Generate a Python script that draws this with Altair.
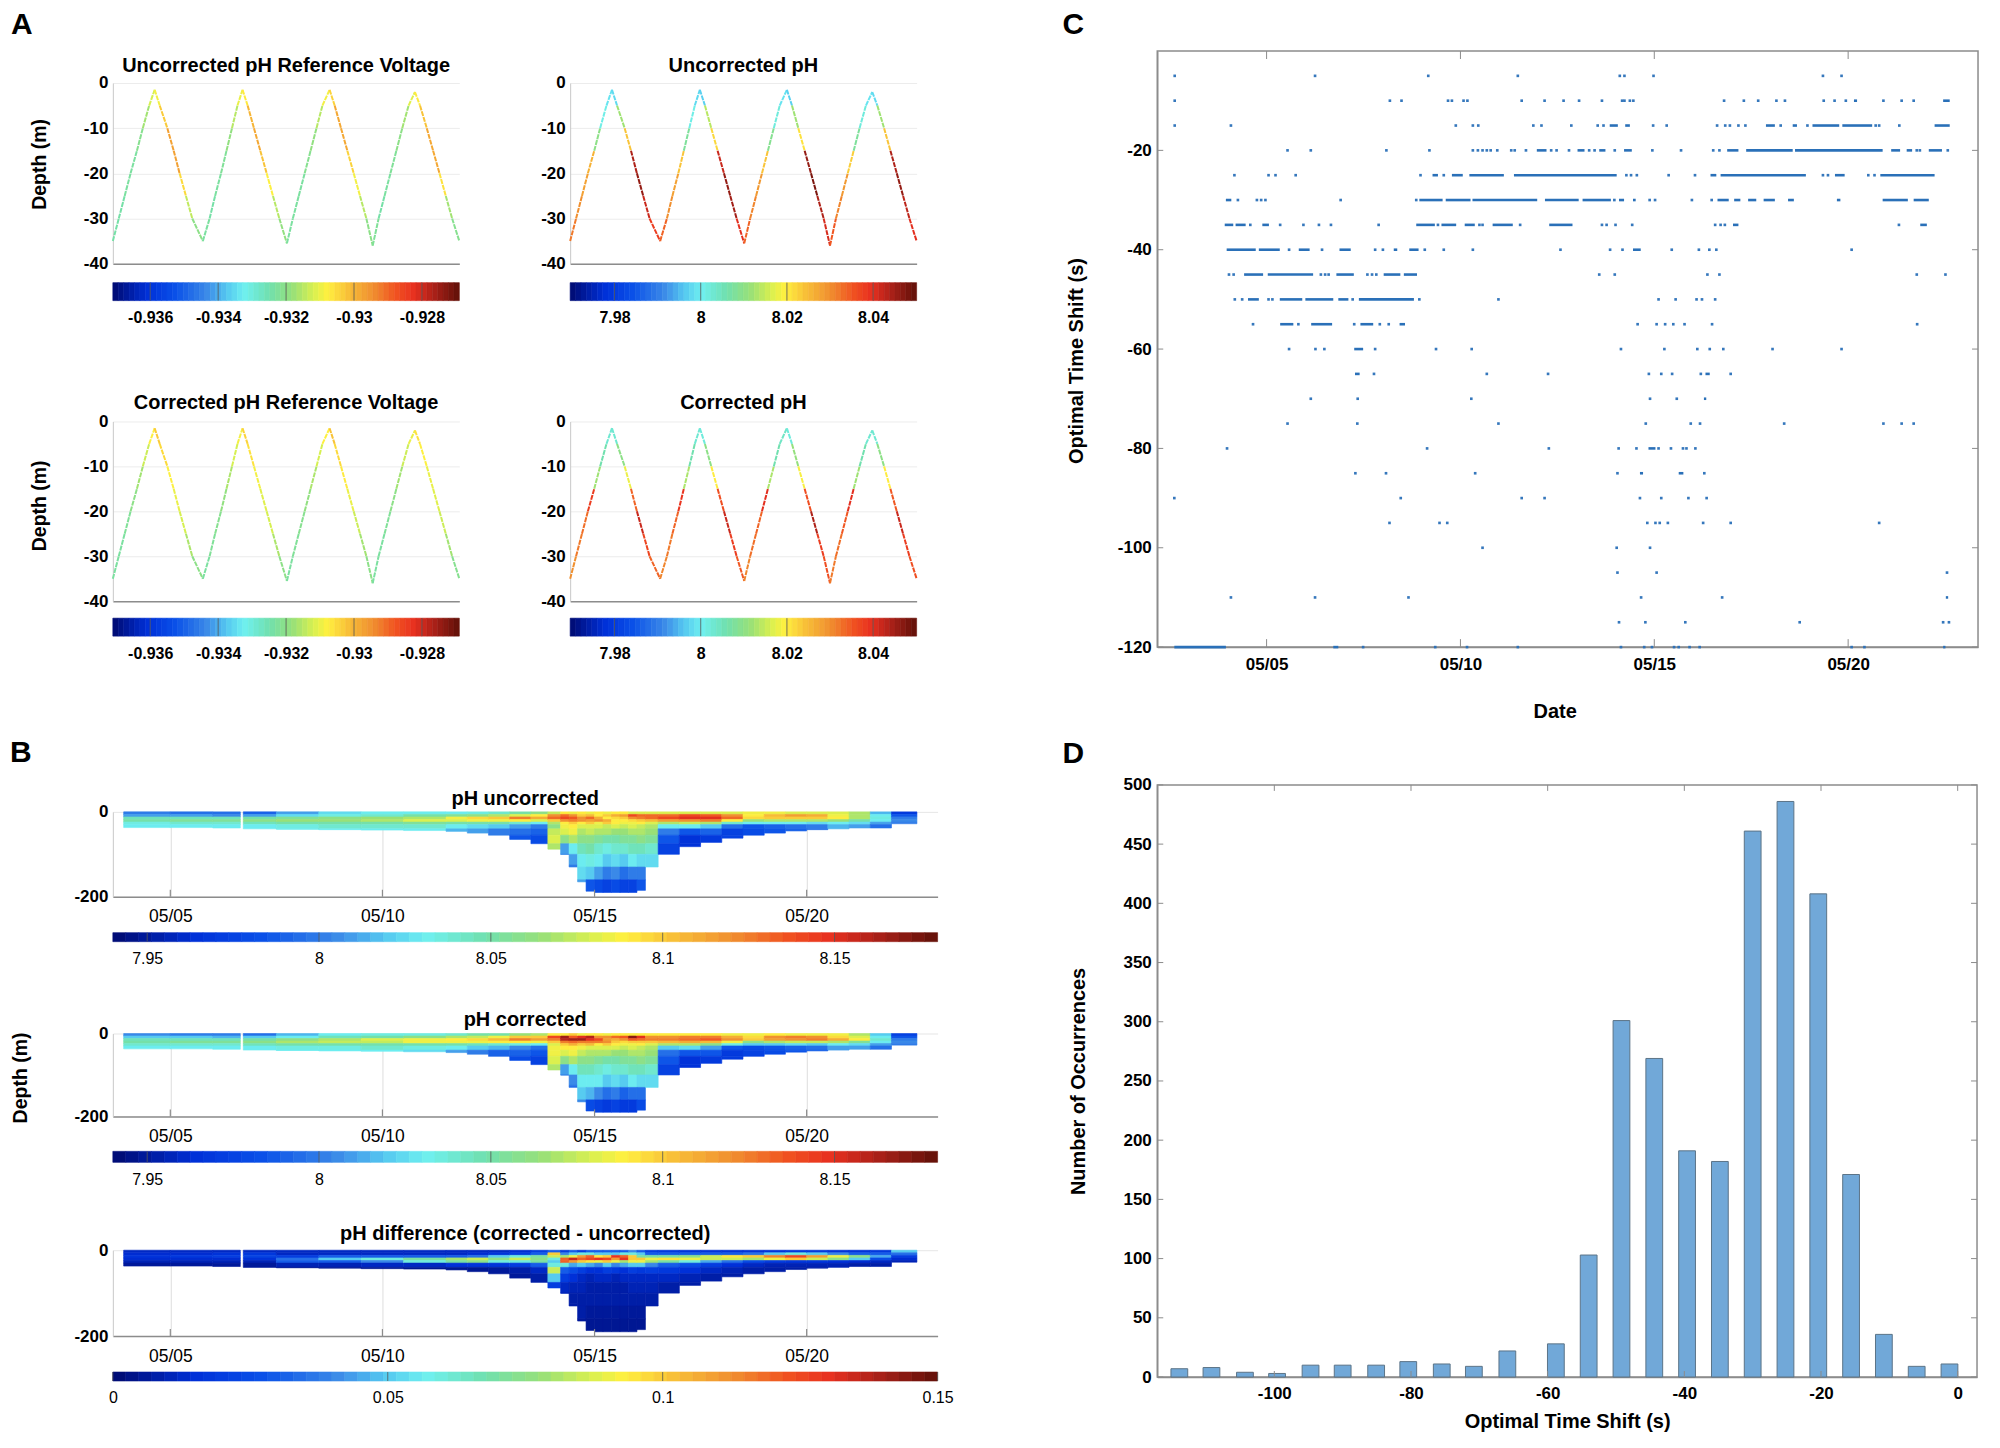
import altair as alt
import numpy as np
import pandas as pd

FONT = "Liberation Sans"
GREY = "#8c8c8c"

# jet-like colour ramp
JET_FRACS = [0, .1, .18, .27, .33, .38, .45, .52, .58, .62, .68, .75, .82, .87, .93, 1]
JET_COLORS = ["#000a70", "#0030d8", "#0a50e8", "#3a88e8", "#55c8f0", "#6ff0f0", "#70e0b0", "#98e078",
              "#d8f050", "#fff040", "#f8c038", "#f09030", "#f05020", "#e83020", "#a82018", "#601008"]

# Panel A: profile time (hours) and depth (m)
A_TIME = [0, .14, .28, .42, .57, .71, .86, .99, 1.11, 1.29, 1.44, 1.58, 1.73, 1.88,
          2.13, 2.29, 2.42, 2.56, 2.69, 2.82, 2.95, 3.07, 3.19, 3.34, 3.49, 3.64, 3.79, 3.94,
          4.12, 4.26, 4.40, 4.54, 4.68, 4.82, 4.96, 5.13, 5.25, 5.40, 5.55, 5.70, 5.85, 6.00,
          6.15, 6.29, 6.43, 6.57, 6.71, 6.85, 7.00, 7.15, 7.27, 7.43, 7.58, 7.73, 7.88, 8.03, 8.2]
A_DEPTH = [-35, -30, -25, -20, -15, -10, -5, -1.5, -5, -10, -15, -20, -25, -30,
           -35, -30, -25, -20, -15, -10, -5, -1.5, -5, -10, -15, -20, -25, -30,
           -35.5, -30, -25, -20, -15, -10, -5, -1.5, -5, -10, -15, -20, -25, -30,
           -36, -30, -25, -20, -15, -10, -5, -2, -5, -10, -15, -20, -25, -30, -35]
VOLT_UNC = [-.9324, -.9324, -.9323, -.9323, -.9321, -.9317, -.9312, -.9309, -.9303, -.9297, -.9297, -.9305, -.9314, -.9320,
            -.9323, -.9324, -.9323, -.9322, -.9319, -.9315, -.9310, -.9307, -.9300, -.9298, -.9302, -.9308, -.9315, -.9319,
            -.9323, -.9323, -.9323, -.9321, -.9319, -.9315, -.9309, -.9304, -.9298, -.9298, -.9304, -.9309, -.9315, -.9320,
            -.9322, -.9324, -.9323, -.9322, -.9320, -.9317, -.9311, -.9307, -.9302, -.9298, -.9298, -.9306, -.9317, -.9321]
VOLT_COR = [-.9323, -.9323, -.9322, -.9320, -.9317, -.9313, -.9308, -.9303, -.9305, -.9308, -.9310, -.9312, -.9316, -.9320,
            -.9323, -.9322, -.9321, -.9319, -.9316, -.9312, -.9309, -.9304, -.9306, -.9309, -.9311, -.9312, -.9316, -.9320,
            -.9323, -.9322, -.9321, -.9319, -.9316, -.9312, -.9308, -.9302, -.9305, -.9307, -.9310, -.9313, -.9317, -.9320,
            -.9323, -.9323, -.9322, -.9320, -.9317, -.9313, -.9310, -.9306, -.9308, -.9310, -.9311, -.9313, -.9317, -.9321]
PHA_UNC = [8.032, 8.030, 8.028, 8.026, 8.010, 8.001, 7.999, 7.998, 8.012, 8.024, 8.044, 8.046, 8.042, 8.038,
           8.034, 8.030, 8.028, 8.024, 8.008, 8.001, 7.998, 7.997, 8.014, 8.022, 8.042, 8.046, 8.045, 8.040,
           8.034, 8.031, 8.029, 8.024, 8.009, 8.002, 7.999, 7.997, 8.012, 8.021, 8.046, 8.048, 8.044, 8.041,
           8.035, 8.031, 8.029, 8.023, 8.008, 8.002, 7.999, 7.998, 8.012, 8.024, 8.044, 8.046, 8.043, 8.040]
PHA_COR = [8.030, 8.032, 8.033, 8.038, 8.012, 8.006, 8.003, 8.003, 8.010, 8.018, 8.034, 8.042, 8.037, 8.034,
           8.031, 8.032, 8.034, 8.039, 8.013, 8.006, 8.003, 8.002, 8.010, 8.020, 8.036, 8.042, 8.038, 8.035,
           8.031, 8.033, 8.034, 8.040, 8.013, 8.006, 8.004, 8.002, 8.011, 8.019, 8.036, 8.044, 8.038, 8.036,
           8.032, 8.033, 8.035, 8.040, 8.012, 8.006, 8.003, 8.003, 8.010, 8.020, 8.035, 8.042, 8.038, 8.036]

# Panel B: column start days, column bottoms, layer edges, then values per column from the surface down
B_DAYS = [3.9, 5, 6, 6.65, 6.72, 7.5, 8.5, 9.5, 10.5, 11.5, 12, 12.5, 13, 13.5, 13.9, 14.2, 14.4, 14.6, 14.8,
          15, 15.2, 15.4, 15.6, 15.8, 16, 16.2, 16.5, 17, 17.5, 18, 18.5, 19, 19.5, 20, 20.5, 21, 21.5, 22, 22.6]
B_BOTTOM = [-37, -37, -38, -38, -40, -41, -42, -43, -44, -46, -50, -58, -65, -75, -88, -100, -125, -165, -187,
            -190, -190, -190, -190, -190, -185, -130, -100, -82, -72, -62, -55, -50, -45, -42, -40, -38, -38, -28]
B_LAYERS = [0, -6, -12, -18, -24, -30, -40, -55, -75, -100, -130, -160, -192]
PH_UNC = [
    [8.0, 8.01, 8.045, 8.05, 8.035, 8.03], [7.995, 8.01, 8.045, 8.055, 8.04, 8.03],
    [7.995, 8.005, 8.045, 8.055, 8.04, 8.03], [],
    [7.99, 8.01, 8.05, 8.06, 8.045, 8.03], [8.01, 8.025, 8.055, 8.065, 8.05, 8.035, 8.03],
    [8.025, 8.035, 8.06, 8.065, 8.05, 8.04, 8.03], [8.03, 8.04, 8.065, 8.07, 8.05, 8.04, 8.03],
    [8.03, 8.05, 8.07, 8.08, 8.055, 8.04, 8.03], [8.03, 8.055, 8.085, 8.08, 8.05, 8.03, 8.015],
    [8.035, 8.06, 8.095, 8.085, 8.05, 8.025, 8.01], [8.04, 8.07, 8.10, 8.085, 8.05, 8.02, 8.0],
    [8.05, 8.08, 8.125, 8.09, 8.04, 8.01, 7.995, 7.985], [8.06, 8.09, 8.11, 8.08, 8.03, 8.0, 7.99, 7.98],
    [8.075, 8.12, 8.13, 8.1, 8.07, 8.06, 8.075, 8.08, 8.07],
    [8.09, 8.13, 8.14, 8.12, 8.09, 8.085, 8.08, 8.06, 8.01, 8.005],
    [8.085, 8.12, 8.135, 8.125, 8.1, 8.09, 8.085, 8.07, 8.03, 8.01, 8.0],
    [8.09, 8.10, 8.12, 8.12, 8.09, 8.08, 8.07, 8.06, 8.045, 8.03, 8.025, 8.01],
    [8.085, 8.105, 8.13, 8.115, 8.10, 8.08, 8.075, 8.06, 8.05, 8.035, 8.02, 7.985],
    [8.09, 8.09, 8.11, 8.12, 8.085, 8.08, 8.07, 8.055, 8.04, 8.03, 8.01, 7.98],
    [8.085, 8.10, 8.09, 8.11, 8.10, 8.075, 8.07, 8.05, 8.035, 8.02, 8.0, 7.975],
    [8.09, 8.11, 8.095, 8.09, 8.09, 8.08, 8.065, 8.05, 8.04, 8.025, 8.005, 7.98],
    [8.09, 8.115, 8.10, 8.09, 8.085, 8.075, 8.065, 8.055, 8.04, 8.02, 7.995, 7.975],
    [8.08, 8.14, 8.12, 8.095, 8.085, 8.08, 8.07, 8.055, 8.045, 8.03, 8.0, 7.975],
    [8.08, 8.13, 8.125, 8.10, 8.09, 8.075, 8.07, 8.06, 8.045, 8.025, 8.0, 7.985],
    [8.08, 8.13, 8.13, 8.105, 8.08, 8.07, 8.065, 8.055, 8.04, 8.025],
    [8.08, 8.13, 8.14, 8.115, 8.07, 8.03, 8.0, 7.985, 7.975],
    [8.08, 8.14, 8.15, 8.12, 8.075, 8.03, 7.985, 7.965, 7.965],
    [8.08, 8.135, 8.15, 8.125, 8.07, 8.02, 7.99, 7.97],
    [8.08, 8.12, 8.13, 8.09, 8.04, 7.995, 7.975, 7.975],
    [8.085, 8.09, 8.095, 8.065, 8.03, 7.985, 7.98], [8.085, 8.105, 8.10, 8.07, 8.03, 7.99, 7.985],
    [8.08, 8.115, 8.10, 8.07, 8.03, 7.995, 7.99], [8.08, 8.11, 8.10, 8.07, 8.025, 8.0, 7.995],
    [8.08, 8.085, 8.09, 8.065, 8.03, 8.015], [8.07, 8.07, 8.07, 8.05, 8.025, 8.01],
    [8.015, 8.03, 8.035, 8.03, 8.01, 7.995], [7.97, 7.985, 8.0, 8.005, 8.0],
]
PH_COR = [
    [8.005, 8.02, 8.045, 8.05, 8.04, 8.03], [8.0, 8.02, 8.045, 8.055, 8.04, 8.03],
    [8.0, 8.015, 8.045, 8.055, 8.04, 8.03], [],
    [7.995, 8.02, 8.05, 8.06, 8.045, 8.03], [8.015, 8.03, 8.06, 8.07, 8.05, 8.035, 8.03],
    [8.03, 8.045, 8.07, 8.075, 8.05, 8.035, 8.03], [8.035, 8.05, 8.08, 8.075, 8.05, 8.04, 8.03],
    [8.035, 8.06, 8.085, 8.085, 8.05, 8.035, 8.025], [8.04, 8.07, 8.09, 8.085, 8.05, 8.03, 8.01],
    [8.05, 8.075, 8.095, 8.085, 8.045, 8.02, 8.0], [8.05, 8.085, 8.105, 8.09, 8.04, 8.015, 7.99],
    [8.065, 8.10, 8.125, 8.09, 8.035, 8.005, 7.99, 7.98], [8.07, 8.10, 8.115, 8.085, 8.03, 7.995, 7.985, 7.975],
    [8.09, 8.14, 8.125, 8.10, 8.08, 8.085, 8.085, 8.08, 8.07],
    [8.09, 8.165, 8.16, 8.125, 8.10, 8.09, 8.08, 8.06, 8.01, 8.0],
    [8.10, 8.135, 8.165, 8.13, 8.11, 8.09, 8.085, 8.07, 8.03, 8.005, 7.995],
    [8.085, 8.15, 8.165, 8.125, 8.10, 8.085, 8.075, 8.06, 8.045, 8.03, 8.02, 8.005],
    [8.09, 8.16, 8.15, 8.125, 8.105, 8.08, 8.07, 8.06, 8.045, 8.03, 8.015, 7.98],
    [8.09, 8.12, 8.14, 8.125, 8.09, 8.08, 8.07, 8.055, 8.04, 8.03, 8.005, 7.975],
    [8.085, 8.12, 8.115, 8.12, 8.10, 8.08, 8.07, 8.05, 8.035, 8.02, 7.995, 7.97],
    [8.09, 8.13, 8.11, 8.10, 8.09, 8.08, 8.065, 8.05, 8.04, 8.025, 8.0, 7.975],
    [8.09, 8.135, 8.12, 8.095, 8.085, 8.075, 8.065, 8.055, 8.04, 8.02, 7.99, 7.97],
    [8.09, 8.17, 8.135, 8.10, 8.085, 8.08, 8.07, 8.055, 8.045, 8.03, 7.995, 7.97],
    [8.09, 8.15, 8.13, 8.10, 8.09, 8.075, 8.07, 8.06, 8.045, 8.025, 7.995, 7.98],
    [8.09, 8.12, 8.125, 8.10, 8.08, 8.07, 8.065, 8.055, 8.04, 8.025],
    [8.09, 8.12, 8.125, 8.105, 8.07, 8.02, 7.995, 7.985, 7.975],
    [8.09, 8.125, 8.13, 8.11, 8.07, 8.025, 7.985, 7.965, 7.965],
    [8.09, 8.125, 8.135, 8.105, 8.06, 8.01, 7.985, 7.97],
    [8.085, 8.11, 8.12, 8.085, 8.035, 7.985, 7.97, 7.97],
    [8.085, 8.095, 8.10, 8.06, 8.02, 7.98, 7.975], [8.09, 8.12, 8.115, 8.07, 8.02, 7.985, 7.98],
    [8.085, 8.125, 8.12, 8.075, 8.025, 7.99, 7.985], [8.085, 8.12, 8.125, 8.075, 8.02, 7.995, 7.99],
    [8.085, 8.095, 8.11, 8.07, 8.03, 8.01], [8.07, 8.08, 8.09, 8.055, 8.025, 8.01],
    [8.02, 8.03, 8.04, 8.03, 8.01, 7.995], [7.975, 7.985, 8.0, 8.005, 8.0],
]
PH_DIFF = [
    [.012, .014, .016, .014, .01, .006], [.012, .014, .018, .014, .01, .006],
    [.012, .016, .02, .014, .01, .006], [],
    [.012, .018, .022, .016, .01, .006], [.012, .012, .02, .035, .03, .01, .005],
    [.012, .012, .03, .05, .03, .01, .005], [.012, .012, .03, .06, .04, .012, .005],
    [.012, .012, .03, .07, .06, .012, .005], [.012, .012, .03, .08, .07, .015, .005],
    [.012, .014, .035, .085, .075, .016, .005], [.012, .016, .05, .075, .06, .016, .006],
    [.014, .02, .06, .085, .06, .02, .008, .006], [.02, .03, .07, .075, .07, .03, .012, .008],
    [.03, .10, .085, .06, .05, .06, .085, .05, .02],
    [.02, .04, .08, .12, .12, .06, .03, .02, .012, .01],
    [.03, .05, .09, .135, .11, .045, .025, .015, .01, .008, .008],
    [.02, .06, .11, .12, .10, .05, .02, .012, .01, .008, .008, .006],
    [.03, .06, .12, .125, .095, .045, .015, .01, .008, .008, .006, .005],
    [.03, .05, .095, .13, .09, .04, .015, .012, .008, .008, .006, .005],
    [.03, .05, .10, .125, .10, .05, .02, .012, .008, .008, .006, .005],
    [.03, .05, .13, .11, .09, .04, .018, .01, .008, .008, .006, .005],
    [.03, .06, .12, .13, .08, .045, .015, .012, .008, .008, .006, .005],
    [.04, .06, .10, .10, .09, .05, .02, .012, .01, .008, .006, .005],
    [.03, .05, .07, .10, .09, .05, .018, .012, .01, .008, .006, .005],
    [.02, .03, .07, .09, .08, .04, .02, .012, .01, .008],
    [.018, .03, .07, .095, .07, .03, .018, .012, .008],
    [.016, .03, .075, .09, .06, .025, .015, .01, .008],
    [.016, .03, .085, .085, .045, .02, .012, .008],
    [.016, .03, .095, .085, .035, .015, .01, .008],
    [.016, .035, .10, .08, .025, .012, .008], [.016, .05, .115, .09, .02, .01, .008],
    [.018, .06, .125, .10, .018, .01, .008], [.018, .05, .11, .085, .018, .01, .008],
    [.016, .04, .09, .075, .016, .01], [.016, .03, .075, .05, .014, .008],
    [.018, .03, .045, .025, .012, .008], [.05, .035, .02, .014, .01],
]

# Panel C: isolated shifts and continuous runs (day of May) for each shift value
C_SINGLE = {
    -5: [2.63, 6.25, 9.17, 11.48, 14.11, 14.23, 14.98, 19.35, 19.83],
    -10: [2.63, 8.18, 8.48, 9.68, 9.78, 10.08, 10.18, 11.58, 12.17, 12.66, 13.06, 13.65, 14.17, 14.23, 14.37, 14.46,
          16.80, 17.31, 17.68, 18.15, 18.37, 19.37, 19.65, 19.94, 20.91, 21.38, 21.69],
    -15: [2.63, 4.08, 9.88, 10.32, 10.46, 11.88, 12.09, 12.86, 13.54, 13.69, 14.97, 15.32, 16.62, 16.83, 16.95, 17.17,
          17.35, 18.26, 18.95, 20.71, 20.80, 21.32],
    -20: [5.54, 6.14, 8.09, 9.20, 10.32, 10.45, 10.57, 10.68, 10.78, 10.95, 11.31, 11.40, 11.69, 12.34, 12.48, 12.80,
          13.32, 13.46, 13.98, 14.95, 15.69, 16.52, 16.68, 21.77, 21.85, 22.57],
    -25: [4.17, 5.05, 5.23, 5.75, 8.97, 9.57, 14.28, 14.40, 14.55, 15.37, 16.05, 19.35, 19.48, 20.52, 20.68],
    -30: [4.26, 4.75, 4.86, 4.97, 6.91, 8.86, 13.97, 14.88, 15.02, 15.97, 16.48],
    -35: [4.58, 5.35, 5.95, 6.35, 6.66, 7.89, 9.42, 10.49, 10.57, 11.54, 13.65, 13.77, 14.00, 14.43, 16.57, 16.71,
          16.82, 21.31],
    -40: [5.58, 6.43, 7.80, 8.00, 9.08, 9.57, 10.32, 12.58, 13.86, 14.18, 15.45, 16.15, 16.42, 16.60, 20.09],
    -45: [4.03, 4.15, 6.40, 6.51, 6.60, 7.60, 7.72, 7.83, 13.58, 13.98, 16.37, 16.68, 21.77, 22.51],
    -50: [4.18, 4.37, 5.05, 5.15, 7.22, 8.94, 10.98, 15.11, 15.55, 16.09, 16.23, 16.57],
    -55: [4.65, 5.82, 7.26, 7.92, 8.15, 14.57, 15.06, 15.28, 15.49, 15.78, 16.49, 21.78],
    -60: [5.58, 6.26, 6.49, 7.80, 9.37, 10.29, 14.14, 15.26, 16.11, 16.43, 16.78, 18.05, 19.83],
    -65: [7.77, 10.68, 12.26, 14.86, 15.18, 15.46, 16.20, 16.97],
    -70: [6.14, 7.35, 10.28, 14.89, 15.58],
    -75: [5.54, 7.34, 10.98, 14.78, 15.94, 16.18, 18.35, 20.91, 21.38, 21.69],
    -80: [3.98, 9.14, 12.28, 14.08, 14.54, 15.11, 15.43, 15.74, 15.83, 16.06],
    -85: [7.29, 8.08, 10.38, 14.05, 16.29],
    -90: [2.62, 8.46, 11.58, 12.17, 14.63, 15.18, 15.88, 16.35],
    -95: [8.17, 9.46, 9.66, 14.82, 15.03, 15.14, 15.35, 16.26, 16.97, 20.80],
    -100: [10.57, 14.03, 14.89],
    -105: [14.05, 15.06, 22.55],
    -110: [4.08, 6.25, 8.66, 14.66, 16.75],
    -115: [14.09, 14.77, 15.80, 18.75, 22.45, 22.60],
    -120: [7.49, 9.35, 10.17, 11.48, 14.14, 14.74, 14.94, 15.51, 15.63, 15.91, 16.17, 20.09, 20.42],
}
C_RUNS = {
    -10: [(20.15, 20.23), (22.45, 22.62)],
    -15: [(13.85, 14.06), (14.25, 14.37), (17.88, 18.11), (18.57, 18.68), (19.08, 19.77), (19.85, 20.62), (22.23, 22.62)],
    -20: [(11.97, 12.22), (13.02, 13.20), (13.58, 13.74), (14.22, 14.42), (16.88, 17.17), (17.37, 18.57), (18.63, 20.89),
          (21.11, 21.34), (21.51, 21.65), (22.08, 22.42)],
    -25: [(9.28, 9.42), (9.78, 10.06), (10.23, 11.12), (11.38, 14.03), (16.45, 16.60), (16.71, 18.91), (19.66, 19.91),
          (20.83, 22.23)],
    -30: [(3.95, 4.09), (8.94, 9.54), (9.62, 10.26), (10.31, 11.98), (12.18, 13.05), (13.15, 13.88), (14.09, 14.22),
          (14.45, 14.52), (16.63, 16.92), (17.06, 17.22), (17.42, 17.63), (17.82, 18.11), (18.45, 18.60), (19.71, 19.80),
          (20.89, 21.54), (21.69, 22.08)],
    -35: [(3.92, 4.14), (4.20, 4.46), (4.89, 5.06), (8.86, 9.34), (9.51, 9.89), (10.11, 10.37), (10.83, 11.35),
          (12.29, 12.89), (17.03, 17.17), (21.86, 22.03)],
    -40: [(3.97, 4.72), (4.80, 5.34), (5.83, 6.11), (6.88, 7.17), (8.28, 8.37), (8.68, 8.92), (14.45, 14.65)],
    -45: [(4.42, 4.91), (5.03, 6.20), (6.80, 7.25), (8.02, 8.45), (8.54, 8.88)],
    -50: [(4.52, 4.80), (5.34, 5.92), (6.00, 6.72), (6.85, 7.11), (7.38, 8.80)],
    -55: [(5.35, 5.69), (6.15, 6.69), (7.42, 7.75), (8.43, 8.57)],
    -60: [(7.26, 7.49)],
    -65: [(7.28, 7.40), (16.32, 16.43)],
    -70: [(16.28, 16.34)],
    -80: [(14.85, 15.03)],
    -85: [(14.63, 14.71), (15.63, 15.75)],
    -110: [(22.52, 22.58)],
    -120: [(2.62, 3.95), (6.72, 6.85), (22.45, 22.51)],
}
DATE_TICKS = [5, 10, 15, 20]
SHIFT_TICKS = [-120, -100, -80, -60, -40, -20]

# Panel D: histogram of optimal time shift
D_SHIFT = [-113.9, -109.2, -104.3, -99.6, -94.7, -90.0, -85.1, -80.4, -75.5, -70.8, -65.9, -58.8, -54.0, -49.2,
           -44.4, -39.6, -34.8, -30.0, -25.2, -20.4, -15.6, -10.8, -6.0, -1.2]
D_COUNT = [7, 8, 4, 3, 10, 10, 10, 13, 11, 9, 22, 28, 103, 301, 269, 191, 182, 461, 486, 408, 171, 36, 9, 11]
D_XTICKS = [-100, -80, -60, -40, -20, 0]
D_YTICKS = [0, 50, 100, 150, 200, 250, 300, 350, 400, 450, 500]

ONE = pd.DataFrame({"a": [0]})
LABEL = "'' + datum.value"
DATE_LABEL = "'05/' + (datum.value < 10 ? '0' : '') + datum.value"
SOLO = dict(color="independent", stroke="independent")


def jet(lo, hi):
    return alt.Scale(domain=[lo + (hi - lo) * f for f in JET_FRACS], range=JET_COLORS, interpolate="rgb")


def box(left, top, right, bottom):
    # invisible rule that fixes the outer bounds of a panel, so the concat rows line up
    return alt.Chart(ONE).mark_rule(opacity=0).encode(
        x=alt.value(left), x2=alt.value(right), y=alt.value(top), y2=alt.value(bottom))


def letter(text, x, y):
    return alt.Chart(ONE).mark_text(text=text, font=FONT, fontSize=30, fontWeight="bold", align="left",
                                    baseline="middle", color="black").encode(x=alt.value(x), y=alt.value(y))


def head(text, x, y):
    # panel heading as a text mark: a title would sit above the fixed bounds
    return alt.Chart(ONE).mark_text(text=text, font=FONT, fontSize=20, fontWeight="bold", align="center",
                                    baseline="middle", color="black").encode(x=alt.value(x), y=alt.value(y))


def colorbar(lo, hi, ticks, width, height, bounds, size=16, weight="normal", tick_color="#555555"):
    edges = np.linspace(lo, hi, 65)
    bands = pd.DataFrame({"a": edges[:-1], "b": edges[1:], "v": (edges[:-1] + edges[1:]) / 2})
    xs = alt.Scale(domain=[lo, hi], nice=False, zero=False)
    ax = alt.Axis(values=ticks, labelExpr=LABEL, domain=False, ticks=False, grid=False, labelFontSize=size,
                  labelFontWeight=weight, labelPadding=9, labelFlush=False)
    rects = alt.Chart(bands).mark_rect(strokeWidth=0.6).encode(
        x=alt.X("a:Q", scale=xs, title=None, axis=ax),
        x2="b:Q",
        color=alt.Color("v:Q", scale=jet(lo, hi), legend=None),
        stroke=alt.Stroke("v:Q", scale=jet(lo, hi), legend=None),
    )
    marks = alt.Chart(pd.DataFrame({"t": ticks})).mark_rule(color=tick_color, strokeWidth=0.8).encode(
        x=alt.X("t:Q", scale=xs, title=None, axis=ax), y=alt.value(0), y2=alt.value(height))
    return alt.layer(rects, marks, box(*bounds)).properties(width=width, height=height)


def saw_panel(title, title_y, values, lo, hi, height, pad, bounds, extra=None, depth_y=None):
    # pad: blank space left above the 0 m line inside the view
    df = pd.DataFrame({"t": A_TIME[:-1], "t2": A_TIME[1:], "d": A_DEPTH[:-1], "d2": A_DEPTH[1:], "v": values})
    seg = alt.Chart(df).mark_rule(strokeWidth=2, strokeDash=[5, 1]).encode(
        x=alt.X("t:Q", scale=alt.Scale(domain=[0, 8.2], nice=False), title=None,
                axis=alt.Axis(labels=False, ticks=False, grid=False, domainColor=GREY, domainWidth=1.5)),
        x2="t2:Q",
        y=alt.Y("d:Q", scale=alt.Scale(domain=[-40, 0], nice=False, range=[height, pad]),
                title="Depth (m)" if depth_y else None,
                axis=alt.Axis(values=[0, -10, -20, -30, -40], labelExpr=LABEL, ticks=False, grid=True,
                              gridColor="#ececec", domainColor="#c8c8c8", labelPadding=5,
                              titleX=-63, titleY=depth_y or 90, titleFontSize=19.5)),
        y2="d2:Q",
        color=alt.Color("v:Q", scale=jet(lo, hi), legend=None),
    )
    parts = [seg, box(*bounds), head(title, 173.5, title_y)]
    if extra is not None:
        parts.append(extra)
    return alt.layer(*parts).properties(width=347, height=height)


def section_panel(title, title_y, columns, lo, hi, height, bounds, extra=None, depth_y=None):
    rows = []
    for i, col in enumerate(columns):
        for j, v in enumerate(col):
            rows.append({"a": B_DAYS[i], "b": B_DAYS[i + 1], "top": B_LAYERS[j],
                         "bot": max(B_LAYERS[j + 1], B_BOTTOM[i]), "v": v})
    xs = alt.Scale(domain=[3.645, 23.087], nice=False, zero=False)
    ax = alt.Axis(values=DATE_TICKS, labelExpr=DATE_LABEL, ticks=False, grid=True, gridColor="#dddddd",
                  domainColor=GREY, domainWidth=1.5, labelFontSize=17.5, labelFontWeight="normal", labelPadding=11)
    rect = alt.Chart(pd.DataFrame(rows)).mark_rect(strokeWidth=0.6).encode(
        x=alt.X("a:Q", scale=xs, title=None, axis=ax),
        x2="b:Q",
        y=alt.Y("top:Q", scale=alt.Scale(domain=[-200, 0], nice=False),
                title="Depth (m)" if depth_y else None,
                axis=alt.Axis(values=[0, -200], labelExpr=LABEL, ticks=False, grid=True, gridColor="#e6e6e6",
                              domainColor="#c8c8c8", labelPadding=5, titleX=-82, titleY=depth_y or 40,
                              titleFontSize=19.5)),
        y2="bot:Q",
        color=alt.Color("v:Q", scale=jet(lo, hi), legend=None),
        stroke=alt.Stroke("v:Q", scale=jet(lo, hi), legend=None),
    )
    ticks = alt.Chart(pd.DataFrame({"t": DATE_TICKS})).mark_rule(color=GREY, strokeWidth=1.2).encode(
        x=alt.X("t:Q", scale=xs, title=None, axis=ax), y=alt.value(height - 7), y2=alt.value(height))
    parts = [rect, ticks, box(*bounds), head(title, 413, title_y)]
    if extra is not None:
        parts.append(extra)
    return alt.layer(*parts).properties(width=826, height=height)


# panel A rows (bounds are left, top, right, bottom relative to the plot origin)
A_LEFT, A_GAP_LEFT, A_RIGHT2 = -105, -110, 480
a1 = saw_panel("Uncorrected pH Reference Voltage", 15, VOLT_UNC, -.9371, -.9269, 213, 32, (A_LEFT, -41, 347, 213),
               extra=letter("A", -102, -26), depth_y=113)
a2 = saw_panel("Uncorrected pH", 15, PHA_UNC, 7.9697, 8.0501, 213, 32, (A_GAP_LEFT, -41, A_RIGHT2, 213))
a3 = saw_panel("Corrected pH Reference Voltage", -18, VOLT_COR, -.9371, -.9269, 180, 0, (A_LEFT, -75, 347, 180),
               depth_y=84)
a4 = saw_panel("Corrected pH", -18, PHA_COR, 7.9697, 8.0501, 180, 0, (A_GAP_LEFT, -75, A_RIGHT2, 180))
VOLT_TICKS = [-.936, -.934, -.932, -.93, -.928]
PH_TICKS = [7.98, 8, 8.02, 8.04]
cb1 = colorbar(-.9371, -.9269, VOLT_TICKS, 347, 18, (A_LEFT, 0, 347, 64), weight="bold")
cb2 = colorbar(7.9697, 8.0501, PH_TICKS, 347, 18, (A_GAP_LEFT, 0, A_RIGHT2, 64), weight="bold")
cb3 = colorbar(-.9371, -.9269, VOLT_TICKS, 347, 18, (A_LEFT, 0, 347, 73), weight="bold")
cb4 = colorbar(7.9697, 8.0501, PH_TICKS, 347, 18, (A_GAP_LEFT, 0, A_RIGHT2, 73), weight="bold")
row_a1 = alt.hconcat(alt.vconcat(a1, cb1, spacing=19, bounds="flush").resolve_scale(**SOLO),
                     alt.vconcat(a2, cb2, spacing=19, bounds="flush").resolve_scale(**SOLO),
                     spacing=0).resolve_scale(**SOLO)
row_a2 = alt.hconcat(alt.vconcat(a3, cb3, spacing=17, bounds="flush").resolve_scale(**SOLO),
                     alt.vconcat(a4, cb4, spacing=17, bounds="flush").resolve_scale(**SOLO),
                     spacing=0).resolve_scale(**SOLO)

# panel B rows
B_L, B_R = -105, 937
PH_B_TICKS = [7.95, 8, 8.05, 8.1, 8.15]
b1 = section_panel("pH uncorrected", -13, PH_UNC, 7.94, 8.18, 85, (B_L, -121, B_R, 85), extra=letter("B", -103, -59))
b2 = section_panel("pH corrected", -14, PH_COR, 7.94, 8.18, 83, (B_L, -67, B_R, 83), depth_y=44)
b3 = section_panel("pH difference (corrected - uncorrected)", -16, PH_DIFF, 0, .15, 86, (B_L, -59, B_R, 86))
cb5 = colorbar(7.94, 8.18, PH_B_TICKS, 826, 9, (B_L, 0, B_R, 33))
cb6 = colorbar(7.94, 8.18, PH_B_TICKS, 826, 11, (B_L, 0, B_R, 40))
cb7 = colorbar(0, .15, [0, .05, .1, .15], 826, 9, (B_L, 0, B_R, 48))
row_b1 = alt.vconcat(b1, cb5, spacing=36, bounds="flush").resolve_scale(**SOLO)
row_b2 = alt.vconcat(b2, cb6, spacing=35, bounds="flush").resolve_scale(**SOLO)
row_b3 = alt.vconcat(b3, cb7, spacing=36, bounds="flush").resolve_scale(**SOLO)

# panel C
single = pd.DataFrame([{"day": d, "shift": s} for s, days in C_SINGLE.items() for d in days])
runs = pd.DataFrame([{"a": a, "b": b, "shift": s} for s, spans in C_RUNS.items() for a, b in spans])
cx = alt.Scale(domain=[2.18, 23.35], nice=False, zero=False)
cy = alt.Scale(domain=[-120, 0], nice=False)
BLUE = "#2a70b8"
C_W, C_H = 822, 597
cx_axis = alt.Axis(values=DATE_TICKS, labelExpr=DATE_LABEL, ticks=False, grid=False, domainColor=GREY,
                   domainWidth=1.5, labelPadding=9, titleX=398, titleY=54, titleFontSize=20)
cy_axis = alt.Axis(values=SHIFT_TICKS, labelExpr=LABEL, ticks=False, grid=False, domainColor=GREY,
                   domainWidth=1.5, labelPadding=6, titleX=-71, titleY=310, titleFontSize=20)
C_XT, C_YT = "Date", "Optimal Time Shift (s)"
dots = alt.Chart(single).mark_square(size=7, color=BLUE, opacity=0.95).encode(
    x=alt.X("day:Q", scale=cx, title=C_XT, axis=cx_axis),
    y=alt.Y("shift:Q", scale=cy, title=C_YT, axis=cy_axis),
)
lines = alt.Chart(runs).mark_rule(color=BLUE, strokeWidth=2.6).encode(
    x=alt.X("a:Q", scale=cx, title=C_XT, axis=cx_axis), x2="b:Q",
    y=alt.Y("shift:Q", scale=cy, title=C_YT, axis=cy_axis))


def ticks_x(values, scale, height, size, title, axis):
    d = pd.DataFrame({"t": values})
    enc = alt.X("t:Q", scale=scale, title=title, axis=axis)
    low = alt.Chart(d).mark_rule(color=GREY, strokeWidth=1).encode(x=enc, y=alt.value(height - size), y2=alt.value(height))
    high = alt.Chart(d).mark_rule(color=GREY, strokeWidth=1).encode(x=enc, y=alt.value(0), y2=alt.value(size))
    return [low, high]


def ticks_y(values, scale, width, size, title, axis):
    d = pd.DataFrame({"t": values})
    enc = alt.Y("t:Q", scale=scale, title=title, axis=axis)
    low = alt.Chart(d).mark_rule(color=GREY, strokeWidth=1).encode(y=enc, x=alt.value(0), x2=alt.value(size))
    high = alt.Chart(d).mark_rule(color=GREY, strokeWidth=1).encode(y=enc, x=alt.value(width - size), x2=alt.value(width))
    return [low, high]


FRAME = alt.ViewBackground(stroke=GREY, strokeWidth=1.5)
panel_c = alt.layer(
    dots, lines, *ticks_x(DATE_TICKS, cx, C_H, 8, C_XT, cx_axis), *ticks_y(SHIFT_TICKS, cy, C_W, 6, C_YT, cy_axis),
    letter("C", -95, -26), box(-107, -41, 835, 686),
).properties(width=C_W, height=C_H, view=FRAME)

# panel D
hist = pd.DataFrame({"shift": D_SHIFT, "n": D_COUNT})
dx = alt.Scale(domain=[-116.4, 2.1], nice=False, zero=False)
dy = alt.Scale(domain=[0, 500], nice=False)
D_W, D_H = 821, 593
dx_axis = alt.Axis(values=D_XTICKS, labelExpr=LABEL, ticks=False, grid=False, domainColor=GREY, domainWidth=1.5,
                   labelPadding=9, titleY=35, titleFontSize=20)
dy_axis = alt.Axis(values=D_YTICKS, labelExpr=LABEL, ticks=False, grid=False, domainColor=GREY, domainWidth=1.5,
                   labelPadding=6, titleX=-69, titleFontSize=20)
D_XT, D_YT = "Optimal Time Shift (s)", "Number of Occurrences"
bars = alt.Chart(hist).mark_bar(size=16.8, color="#71a8d8", stroke="#5b7387", strokeWidth=1).encode(
    x=alt.X("shift:Q", scale=dx, title=D_XT, axis=dx_axis),
    y=alt.Y("n:Q", scale=dy, title=D_YT, axis=dy_axis),
)
panel_d = alt.layer(
    bars, *ticks_x(D_XTICKS, dx, D_H, 6, D_XT, dx_axis), *ticks_y(D_YTICKS, dy, D_W, 6, D_YT, dy_axis),
    letter("D", -95, -31), box(-107, -47, 834, 650),
).properties(width=D_W, height=D_H, view=FRAME)

left = alt.vconcat(row_a1, row_a2, row_b1, row_b2, row_b3, spacing=0).resolve_scale(**SOLO)
right = alt.vconcat(panel_c, panel_d, spacing=0)

chart = alt.hconcat(left, right, spacing=0, padding={"left": 0, "right": 0, "top": 0, "bottom": 0}).resolve_scale(**SOLO).configure_view(
    stroke=None
).configure_axis(
    labelFont=FONT, labelFontSize=17, labelColor="black", labelFontWeight="bold",
    titleFont=FONT, titleFontSize=18, titleFontWeight="bold", titleColor="black",
)

chart.save("out.html", embed_options={"renderer": "svg", "actions": False})
